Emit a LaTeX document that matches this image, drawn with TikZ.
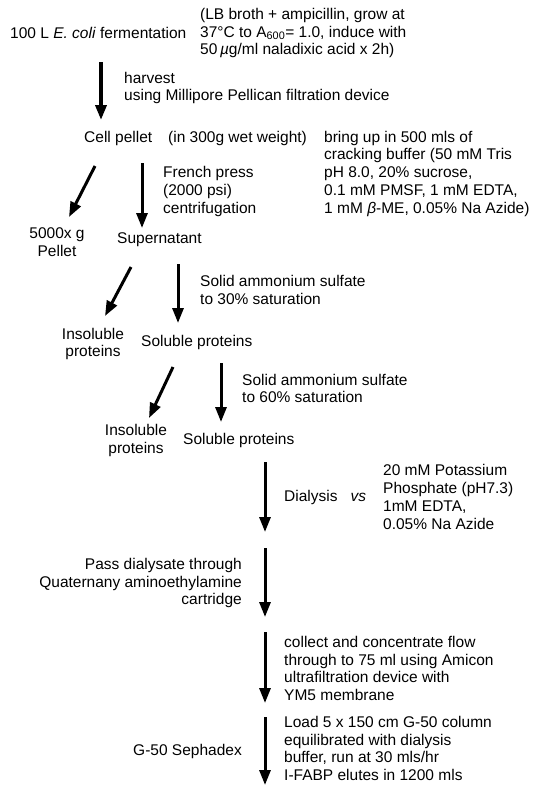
\documentclass[tikz,border=0pt]{standalone}
\usepackage{fontspec}
\setmainfont{Liberation Sans}
\usetikzlibrary{arrows.meta}

\tikzset{
  txt/.style={inner sep=0pt, font=\fontsize{15.5}{17.8}\selectfont},
  flow/.style={line width=3pt, -{Triangle[length=15pt,width=11pt]}},
}

\begin{document}
\begin{tikzpicture}[x=1pt,y=-1pt]

\useasboundingbox (0,0) rectangle (543,785);

%\draw[help lines, step=50] (0,0) grid (543,785);


\node[txt, anchor=west] (ferm) at (10,33) {100 L \textit{E. coli} fermentation};
\node[txt, anchor=west, align=left] (growth) at (200,33) {(LB broth + ampicillin, grow at\\37°C to A\textsubscript{600}= 1.0, induce with\\50\,\textit{µ}g/ml naladixic acid x 2h)};

\node[txt, anchor=west, align=left] (harvest) at (124,88) {harvest\\using Millipore Pellican filtration device};

\node[txt, anchor=west] (cell) at (84,138) {Cell pellet};
\node[txt, anchor=west] (wet) at (168,138) {(in 300g wet weight)};
\node[txt, anchor=west, align=left] (crack) at (324,173.6) {bring up in 500 mls of\\cracking buffer (50 mM Tris\\pH 8.0, 20\% sucrose,\\0.1 mM PMSF, 1 mM EDTA,\\1 mM \textit{β}-ME, 0.05\% Na Azide)};

\node[txt, anchor=west, align=left] (french) at (163,191.4) {French press\\(2000 psi)\\centrifugation};

\node[txt, align=center] (debris) at (57,242) {5000x g\\Pellet};
\node[txt, anchor=west] (super) at (117,240) {Supernatant};


\node[txt, anchor=west, align=left] (salt30) at (200,290) {Solid ammonium sulfate\\to 30\% saturation};
\node[txt, align=center] (insol1) at (93,344) {Insoluble\\proteins};
\node[txt, anchor=west] (sol1) at (141,342) {Soluble proteins};

\node[txt, anchor=west, align=left] (salt60) at (242,388.5) {Solid ammonium sulfate\\to 60\% saturation};
\node[txt, align=center] (insol2) at (136,440.5) {Insoluble\\proteins};
\node[txt, anchor=west] (sol2) at (183,440) {Soluble proteins};


\node[txt, anchor=west] (dial) at (284,497) {Dialysis\hspace{13pt}\textit{vs}};
\node[txt, anchor=west, align=left] (kpi) at (383,497) {20 mM Potassium\\Phosphate (pH7.3)\\1mM EDTA,\\0.05\% Na Azide};

\node[txt, anchor=east, align=right] (qae) at (242,583) {Pass dialysate through\\Quaternany aminoethylamine\\cartridge};

\node[txt, anchor=west, align=left] (conc) at (284,668.5) {collect and concentrate flow\\through to 75 ml using Amicon\\ultrafiltration device with\\YM5 membrane};

\node[txt, anchor=east] (g50) at (242,751) {G-50 Sephadex};
\node[txt, anchor=west, align=left] (load) at (284,748.5) {Load 5 x 150 cm G-50 column\\equilibrated with dialysis\\buffer, run at 30 mls/hr\\I-FABP elutes in 1200 mls};


% arrow ends
\coordinate (a0) at (101,62);   \coordinate (a1) at (101,120);
\coordinate (b0) at (95,166);   \coordinate (b1) at (69,217);
\coordinate (c0) at (142,163);  \coordinate (c1) at (142,228);
\coordinate (d0) at (131,267);  \coordinate (d1) at (105,316);
\coordinate (e0) at (178,264);  \coordinate (e1) at (178,323);
\coordinate (f0) at (173,367);  \coordinate (f1) at (149,418);
\coordinate (g0) at (221,363);  \coordinate (g1) at (221,422);

\draw[flow, line width=3.5pt] (a0) -- (a1);
\draw[flow] (b0) -- (b1);
\draw[flow] (c0) -- (c1);
\draw[flow] (d0) -- (d1);
\draw[flow] (e0) -- (e1);
\draw[flow] (f0) -- (f1);
\draw[flow] (g0) -- (g1);

\foreach \top/\tip [count=\i] in {462/532, 548/617, 632/703, 717/785}{
  \coordinate (s\i) at (265,\top);
  \coordinate (t\i) at (265,\tip);
  \draw[flow] (s\i) -- (t\i);
}

\end{tikzpicture}
\end{document}
